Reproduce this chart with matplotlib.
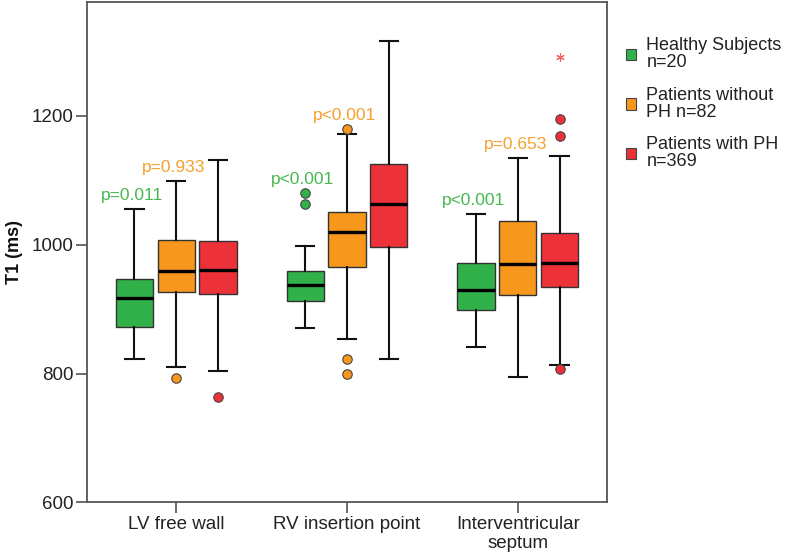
import matplotlib
matplotlib.use('Agg')
import matplotlib.pyplot as plt
from matplotlib.patches import Patch

plt.rcParams['font.family'] = ['Liberation Sans', 'DejaVu Sans']

# ---------------- data ----------------
regions = ['LV free wall', 'RV insertion point', 'Interventricular\nseptum']
groups = ['Healthy Subjects\nn=20', 'Patients without\nPH n=82', 'Patients with PH\nn=369']
colors = ['#30b14a', '#f7981d', '#ec3139']
text_colors = ['#45b84e', '#f5a030']

# indexed [group][region]
whislo = [[822, 870, 841], [810, 854, 794], [804, 822, 814]]
q1 = [[873, 913, 898], [927, 966, 922], [923, 996, 935]]
med = [[917, 938, 930], [960, 1020, 970], [961, 1063, 972]]
q3 = [[947, 959, 972], [1007, 1051, 1037], [1006, 1125, 1018]]
whishi = [[1055, 998, 1047], [1099, 1172, 1135], [1132, 1317, 1138]]
outliers = [[[], [1081, 1063], []],
            [[793], [1180, 822, 800], []],
            [[763], [], [1196, 1169, 807]]]
extremes = [[[], [], []], [[], [], []], [[], [], [1292]]]
p_labels = [['p=0.011', 'p<0.001', 'p<0.001'],
            ['p=0.933', 'p<0.001', 'p=0.653']]
y_ticks = [600, 800, 1000, 1200]

# ---------------- plot ----------------
fig = plt.figure(figsize=(7.87, 5.59), dpi=100)
ax = fig.add_axes([0.1109, 0.1014, 0.660, 0.895])

offset = 0.245
width = 0.218
for g in range(3):
    stats = []
    pos = []
    for r in range(3):
        stats.append(dict(med=med[g][r], q1=q1[g][r], q3=q3[g][r],
                          whislo=whislo[g][r], whishi=whishi[g][r],
                          fliers=outliers[g][r]))
        pos.append(r + (g - 1) * offset)
    ax.bxp(stats, positions=pos, widths=width, capwidths=width * 0.5,
           patch_artist=True, manage_ticks=False,
           boxprops=dict(facecolor=colors[g], edgecolor='#333333', linewidth=1.0),
           medianprops=dict(color='black', linewidth=2.4),
           whiskerprops=dict(color='#111111', linewidth=1.5),
           capprops=dict(color='#111111', linewidth=1.5),
           flierprops=dict(marker='o', markerfacecolor=colors[g],
                           markeredgecolor='#444444', markeredgewidth=0.8,
                           markersize=6.8, linestyle='none'))
    for r in range(3):
        if extremes[g][r]:
            ax.plot([pos[r]] * len(extremes[g][r]), extremes[g][r],
                    linestyle='none', marker=(6, 2, 0), markersize=6,
                    markeredgecolor='#f06060', markeredgewidth=0.8)

# p-value labels for healthy and patients-without-PH groups
for g in range(2):
    for r in range(3):
        top = max([whishi[g][r]] + outliers[g][r])
        ax.text(r + (g - 1) * offset - 0.015, top + 21, p_labels[g][r],
                color=text_colors[g], fontsize=12.5, ha='center', va='center')

ax.set_xlim(-0.52, 2.52)
ax.set_ylim(600, 1377)
ax.set_xticks(range(3))
ax.set_xticklabels(regions, fontsize=13.5, color='#222222', linespacing=1.15)
ax.set_yticks(y_ticks)
ax.set_yticklabels([str(t) for t in y_ticks], fontsize=13.5, color='#222222')
ax.tick_params(axis='both', direction='out', length=8, width=1.1, color='#444444', pad=2)
for s in ax.spines.values():
    s.set_color('#555555')
    s.set_linewidth(1.3)

ax.set_ylabel('T1 (ms)', fontsize=13, fontweight='bold', color='#111111')
ax.yaxis.set_label_coords(-0.124, 0.5)

handles = [Patch(facecolor=c, edgecolor='#444444', linewidth=0.8) for c in colors]
leg = fig.legend(handles, groups, loc='upper left', bbox_to_anchor=(0.795, 0.933),
                 frameon=False, fontsize=13, handlelength=0.6, handleheight=0.6,
                 handletextpad=0.55, labelspacing=0.85, borderaxespad=0, borderpad=0)
for t in leg.get_texts():
    t.set_linespacing(1.0)
    t.set_color('#222222')

fig.savefig('out.png', dpi=100)
